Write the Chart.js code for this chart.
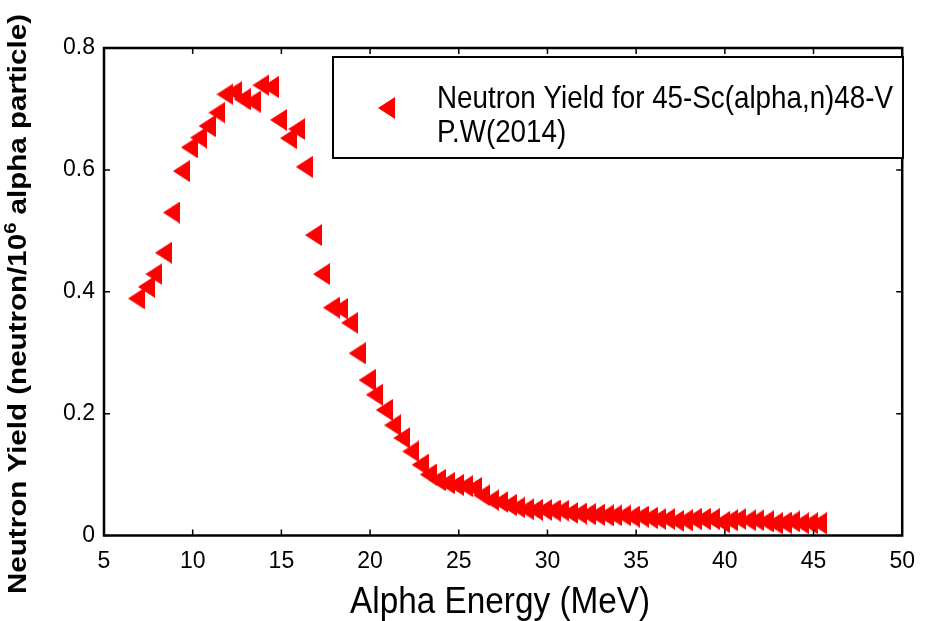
<!DOCTYPE html>
<html>
<head>
<meta charset="utf-8">
<script src="https://cdn.jsdelivr.net/npm/chart.js@4.4.1/dist/chart.umd.min.js"></script>
<style>
  html, body { margin: 0; padding: 0; background: #fff; }
  #wrap { width: 927px; height: 621px; }
</style>
</head>
<body>
<div id="wrap"><canvas id="chart" width="927" height="621"></canvas></div>
<script>
// values
const energy = [6.83, 7.39, 7.81, 8.35, 8.80, 9.36, 9.81, 10.33, 10.81, 11.37,
    11.82, 12.32, 12.79, 13.35, 13.85, 14.37, 14.84, 15.40, 15.86, 16.29,
    16.81, 17.26, 17.82, 18.29, 18.85, 19.27, 19.83, 20.24, 20.80, 21.27,
    21.79, 22.29, 22.82, 23.28, 23.78, 24.29, 24.81, 25.32, 25.83, 26.29,
    26.81, 27.32, 27.78, 28.28, 28.77, 29.27, 29.79, 30.26, 30.76, 31.26,
    31.75, 32.25, 32.75, 33.26, 33.74, 34.25, 34.73, 35.23, 35.73, 36.22,
    36.72, 37.23, 37.71, 38.21, 38.72, 39.24, 39.80, 40.26, 40.73, 41.29,
    41.75, 42.27, 42.78, 43.28, 43.77, 44.27, 44.77, 45.26];
const yieldVals = [0.389, 0.408, 0.429, 0.464, 0.530, 0.598, 0.637, 0.653, 0.672, 0.694,
    0.724, 0.728, 0.716, 0.712, 0.739, 0.736, 0.682, 0.652, 0.667, 0.605,
    0.493, 0.429, 0.374, 0.372, 0.349, 0.299, 0.255, 0.231, 0.206, 0.181,
    0.160, 0.138, 0.116, 0.100, 0.091, 0.086, 0.083, 0.081, 0.078, 0.066,
    0.058, 0.055, 0.050, 0.046, 0.043, 0.042, 0.042, 0.041, 0.041, 0.037,
    0.036, 0.035, 0.034, 0.033, 0.033, 0.033, 0.031, 0.031, 0.029, 0.027,
    0.027, 0.024, 0.025, 0.027, 0.027, 0.027, 0.022, 0.025, 0.027, 0.025,
    0.025, 0.023, 0.020, 0.021, 0.023, 0.020, 0.020, 0.020];
const xTickValues = [5, 10, 15, 20, 25, 30, 35, 40, 45, 50];
const yTickValues = [0, 0.2, 0.4, 0.6, 0.8];
const legendLines = ['Neutron Yield for 45-Sc(alpha,n)48-V', 'P.W(2014)'];
const xTitle = 'Alpha Energy (MeV)';
const yTitleParts = ['Neutron Yield (neutron/10', '6', ' alpha particle)'];

const FONT = '"Liberation Sans", Arial, Helvetica, sans-serif';

// left-pointing triangle marker, like matlab '<'
function makeMarker(w, h) {
    const c = document.createElement('canvas');
    c.width = w;
    c.height = h;
    const g = c.getContext('2d');
    g.fillStyle = '#ff0000';
    g.beginPath();
    g.moveTo(0, h / 2);
    g.lineTo(w, 0);
    g.lineTo(w, h);
    g.closePath();
    g.fill();
    return c;
}
const marker = makeMarker(17, 22);

// draw text squeezed or stretched to a given width
function fitText(ctx, text, x, y, font, targetW, align) {
    ctx.save();
    ctx.font = font;
    const w = ctx.measureText(text).width;
    const s = targetW ? targetW / w : 1;
    ctx.translate(x, y);
    ctx.scale(s, 1);
    ctx.textAlign = align || 'left';
    ctx.fillText(text, 0, 0);
    ctx.restore();
}

const framePlugin = {
    id: 'frame',
    afterDraw(chart) {
        const ctx = chart.ctx;
        const { left, right, top, bottom } = chart.chartArea;
        const xs = chart.scales.x;
        const ys = chart.scales.y;
        ctx.save();
        ctx.strokeStyle = '#000';
        ctx.fillStyle = '#000';

        // inward ticks
        ctx.lineWidth = 1.5;
        ctx.beginPath();
        xTickValues.forEach(v => {
            const px = xs.getPixelForValue(v);
            ctx.moveTo(px, bottom); ctx.lineTo(px, bottom - 6);
            ctx.moveTo(px, top); ctx.lineTo(px, top + 6);
        });
        yTickValues.forEach(v => {
            const py = ys.getPixelForValue(v);
            ctx.moveTo(left, py); ctx.lineTo(left + 6, py);
            ctx.moveTo(right, py); ctx.lineTo(right - 6, py);
        });
        ctx.stroke();

        // box
        ctx.lineWidth = 2.5;
        ctx.strokeRect(left, top, right - left, bottom - top);

        // legend
        const lx = 333, ly = 57, lw = 570, lh = 101;
        ctx.fillStyle = '#fff';
        ctx.fillRect(lx, ly, lw, lh);
        ctx.lineWidth = 2;
        ctx.strokeRect(lx, ly, lw, lh);
        ctx.drawImage(marker, 378, 97);
        ctx.fillStyle = '#000';
        ctx.font = '32px ' + FONT;
        const s = 456 / ctx.measureText(legendLines[0]).width;
        legendLines.forEach((t, i) => {
            ctx.save();
            ctx.translate(437, 108 + i * 34);
            ctx.scale(s, 1);
            ctx.textAlign = 'left';
            ctx.fillText(t, 0, 0);
            ctx.restore();
        });

        // x title
        fitText(ctx, xTitle, (left + right) / 2 - 3, 613, '36px ' + FONT, 300, 'center');

        // y title with superscript
        ctx.save();
        ctx.translate(26, 304);
        ctx.rotate(-Math.PI / 2);
        const bigFont = 'bold 25px ' + FONT;
        const supFont = 'bold 17px ' + FONT;
        ctx.font = bigFont;
        const w0 = ctx.measureText(yTitleParts[0]).width;
        const w2 = ctx.measureText(yTitleParts[2]).width;
        ctx.font = supFont;
        const w1 = ctx.measureText(yTitleParts[1]).width;
        const total = w0 + w1 + w2;
        const k = 580 / total;
        ctx.scale(k, 1);
        let x0 = -total / 2;
        ctx.textAlign = 'left';
        ctx.font = bigFont;
        ctx.fillText(yTitleParts[0], x0, 0);
        ctx.font = supFont;
        ctx.fillText(yTitleParts[1], x0 + w0, -10);
        ctx.font = bigFont;
        ctx.fillText(yTitleParts[2], x0 + w0 + w1, 0);
        ctx.restore();

        ctx.restore();
    }
};

const points = energy.map((e, i) => ({ x: e, y: yieldVals[i] }));

new Chart(document.getElementById('chart'), {
    type: 'scatter',
    data: {
        datasets: [{
            label: legendLines[0],
            data: points,
            pointStyle: marker,
            pointRadius: 9,
            clip: false
        }]
    },
    options: {
        responsive: false,
        animation: false,
        devicePixelRatio: 1,
        layout: { padding: { left: 0, top: 48, right: 18, bottom: 0 } },
        plugins: {
            legend: { display: false },
            tooltip: { enabled: false }
        },
        scales: {
            x: {
                type: 'linear',
                min: 5,
                max: 50,
                afterBuildTicks: axis => { axis.ticks = xTickValues.map(v => ({ value: v })); },
                afterFit: axis => { axis.height = 85.5; },
                grid: { display: false, drawTicks: false },
                border: { display: false },
                ticks: {
                    color: '#000',
                    padding: 12,
                    maxRotation: 0,
                    font: { family: FONT, size: 23 }
                }
            },
            y: {
                type: 'linear',
                min: 0,
                max: 0.8,
                afterBuildTicks: axis => { axis.ticks = yTickValues.map(v => ({ value: v })); },
                afterFit: axis => { axis.width = 104; },
                grid: { display: false, drawTicks: false },
                border: { display: false },
                ticks: {
                    color: '#000',
                    padding: 9,
                    font: { family: FONT, size: 23 },
                    callback: v => String(v)
                }
            }
        }
    },
    plugins: [framePlugin]
});
</script>
</body>
</html>
